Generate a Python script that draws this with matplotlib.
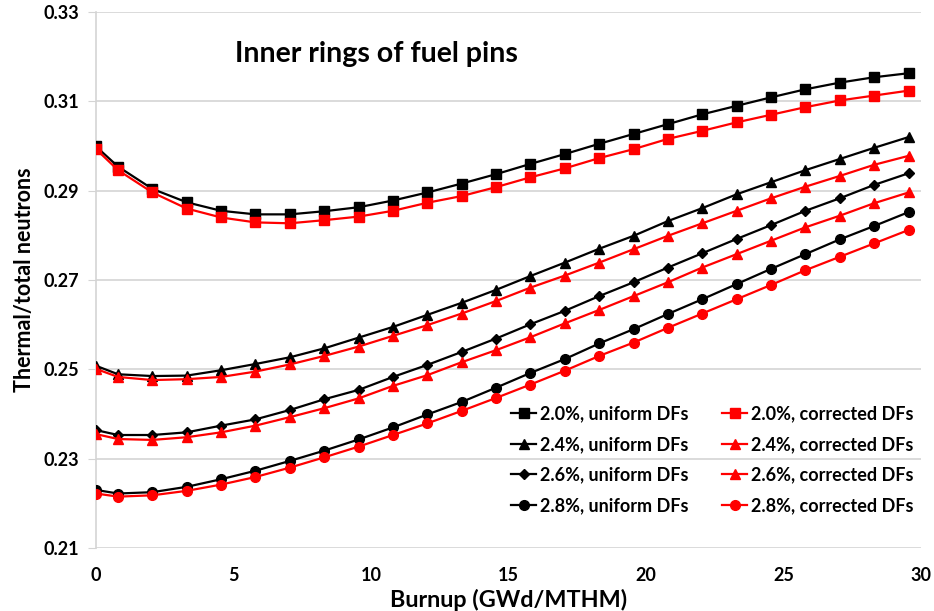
import matplotlib
matplotlib.use('Agg')
import matplotlib.pyplot as plt

plt.rcParams['font.family'] = ['Lato', 'DejaVu Sans']
plt.rcParams['font.weight'] = 'bold'

# Burnup points (GWd/MTHM)
burnup = [0, 0.8, 2.05, 3.3, 4.55, 5.8, 7.05, 8.3, 9.55, 10.8, 12.05, 13.3, 14.55,
          15.8, 17.05, 18.3, 19.55, 20.8, 22.05, 23.3, 24.55, 25.8, 27.05, 28.3, 29.55]

# Thermal/total neutron ratio, uniform DFs
u20 = [0.2999, 0.2954, 0.2904, 0.2874, 0.2855, 0.2847, 0.2847, 0.2854, 0.2863, 0.2878, 0.2896, 0.2916, 0.2937,
       0.2960, 0.2982, 0.3005, 0.3027, 0.3049, 0.3071, 0.3090, 0.3109, 0.3127, 0.3142, 0.3154, 0.3163]
u24 = [0.2508, 0.2489, 0.2485, 0.2486, 0.2498, 0.2512, 0.2527, 0.2547, 0.2571, 0.2595, 0.2622, 0.2649, 0.2678,
       0.2709, 0.2739, 0.2770, 0.2799, 0.2832, 0.2861, 0.2892, 0.2919, 0.2946, 0.2971, 0.2996, 0.3020]
u26 = [0.2364, 0.2353, 0.2353, 0.2359, 0.2374, 0.2388, 0.2409, 0.2433, 0.2454, 0.2483, 0.2510, 0.2539, 0.2569,
       0.2601, 0.2631, 0.2664, 0.2695, 0.2728, 0.2760, 0.2792, 0.2823, 0.2855, 0.2883, 0.2913, 0.2939]
u28 = [0.2230, 0.2222, 0.2225, 0.2237, 0.2254, 0.2273, 0.2295, 0.2318, 0.2343, 0.2370, 0.2399, 0.2427, 0.2459,
       0.2492, 0.2523, 0.2558, 0.2590, 0.2624, 0.2657, 0.2691, 0.2725, 0.2758, 0.2791, 0.2821, 0.2852]

# Thermal/total neutron ratio, corrected DFs
c20 = [0.2993, 0.2946, 0.2896, 0.2860, 0.2840, 0.2829, 0.2827, 0.2834, 0.2842, 0.2855, 0.2873, 0.2888, 0.2908,
       0.2930, 0.2950, 0.2973, 0.2993, 0.3016, 0.3034, 0.3053, 0.3070, 0.3087, 0.3102, 0.3113, 0.3124]
c24 = [0.2501, 0.2483, 0.2476, 0.2478, 0.2483, 0.2495, 0.2511, 0.2530, 0.2551, 0.2575, 0.2599, 0.2625, 0.2653,
       0.2683, 0.2710, 0.2739, 0.2769, 0.2799, 0.2827, 0.2855, 0.2883, 0.2909, 0.2933, 0.2958, 0.2978]
c26 = [0.2355, 0.2344, 0.2342, 0.2348, 0.2359, 0.2374, 0.2393, 0.2413, 0.2435, 0.2463, 0.2487, 0.2516, 0.2543,
       0.2572, 0.2603, 0.2633, 0.2664, 0.2695, 0.2728, 0.2758, 0.2788, 0.2818, 0.2844, 0.2872, 0.2896]
c28 = [0.2222, 0.2215, 0.2218, 0.2228, 0.2242, 0.2259, 0.2280, 0.2303, 0.2327, 0.2353, 0.2379, 0.2407, 0.2436,
       0.2466, 0.2497, 0.2530, 0.2560, 0.2593, 0.2625, 0.2657, 0.2689, 0.2722, 0.2752, 0.2782, 0.2812]

uniform_series = [('2.0%, uniform DFs', u20, 's', 7),
                  ('2.4%, uniform DFs', u24, '^', 7),
                  ('2.6%, uniform DFs', u26, 'D', 5),
                  ('2.8%, uniform DFs', u28, 'o', 7)]
corrected_series = [('2.0%, corrected DFs', c20, 's', 7),
                    ('2.4%, corrected DFs', c24, '^', 7),
                    ('2.6%, corrected DFs', c26, '^', 7),
                    ('2.8%, corrected DFs', c28, 'o', 7)]

y_ticks = [0.21, 0.23, 0.25, 0.27, 0.29, 0.31, 0.33]
x_ticks = [0, 5, 10, 15, 20, 25, 30]

fig = plt.figure(figsize=(9.34, 6.11), dpi=100)
ax = fig.add_axes([0.1028, 0.1031, 0.8832, 0.8772])

handles = []
for label, vals, mk, ms in uniform_series:
    h, = ax.plot(burnup, vals, color='black', lw=1.6, marker=mk, ms=ms, label=label, zorder=3)
    handles.append(h)
for label, vals, mk, ms in corrected_series:
    h, = ax.plot(burnup, vals, color='#ff0000', lw=1.6, marker=mk, ms=ms, label=label, zorder=3)
    handles.append(h)

ax.set_xlim(0, 30)
ax.set_ylim(0.21, 0.33)
ax.set_xticks(x_ticks)
ax.set_yticks(y_ticks)
ax.set_yticklabels(['%.2f' % v for v in y_ticks])
ax.grid(axis='y', color='#d4d4d4', lw=1.2)
ax.set_axisbelow(True)
for s in ['top', 'right', 'bottom']:
    ax.spines[s].set_visible(False)
ax.spines['left'].set_color('#d4d4d4')
ax.spines['left'].set_linewidth(1.2)
ax.tick_params(axis='y', length=6, color='#d4d4d4', labelsize=13, pad=6)
ax.tick_params(axis='x', length=0, labelsize=13, pad=14)

ax.set_xlabel('Burnup (GWd/MTHM)', fontsize=16.8, fontweight='bold', labelpad=3)
ax.set_ylabel('Thermal/total neutrons', fontsize=15.5, fontweight='bold', labelpad=6)

ax.text(5.05, 0.3188, 'Inner rings of fuel pins', fontsize=20.5, fontweight='bold')

leg = ax.legend(handles=handles, ncol=2, loc='lower right', bbox_to_anchor=(1.004, 0.043),
                frameon=False, fontsize=13, handlelength=1.4, handletextpad=0.2,
                columnspacing=1.85, labelspacing=0.75, borderpad=0.1)

fig.savefig('out.png', dpi=100)
